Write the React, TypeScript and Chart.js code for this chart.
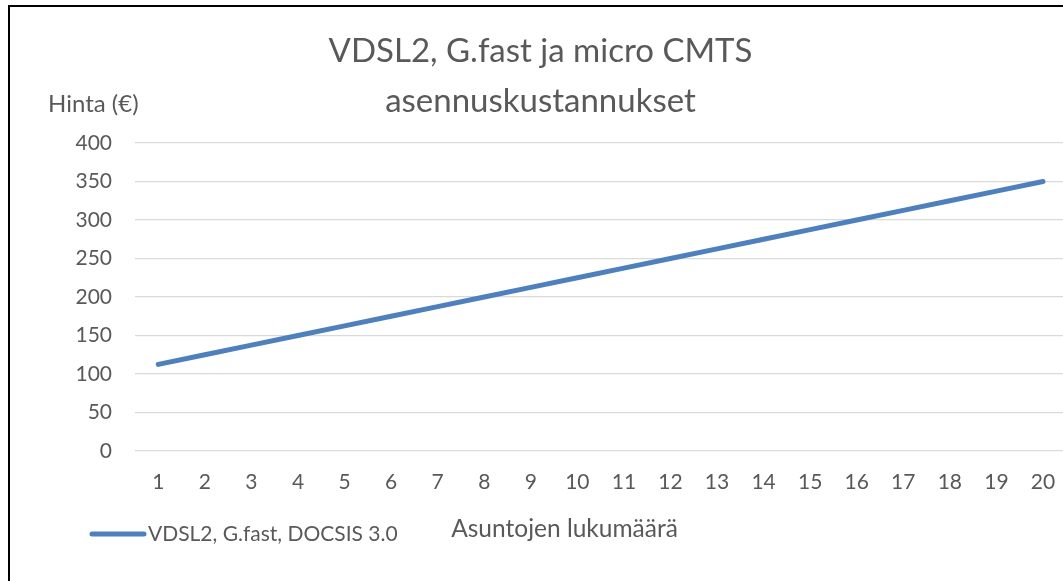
import React, { useEffect, useRef } from "react";
import { Chart, registerables } from "chart.js";

Chart.register(...registerables);

const categories: number[] = [1, 2, 3, 4, 5, 6, 7, 8, 9, 10, 11, 12, 13, 14, 15, 16, 17, 18, 19, 20];
const seriesName = "VDSL2, G.fast, DOCSIS 3.0";
const seriesValues: number[] = [
  112.5, 125, 137.5, 150, 162.5, 175, 187.5, 200, 212.5, 225,
  237.5, 250, 262.5, 275, 287.5, 300, 312.5, 325, 337.5, 350,
];
const titleLines: string[] = ["VDSL2, G.fast ja micro CMTS", "asennuskustannukset"];
const yAxisTitle = "Hinta (€)";
const xAxisTitle = "Asuntojen lukumäärä";
const yMin = 0;
const yMax = 400;
const yStep = 50;

const FONT = "Lato, 'Open Sans', sans-serif";
const TEXT = "#595959";
const LINE = "#4e80bd";
const W = 1063;
const H = 581;

const decorPlugin = {
  id: "decor",
  beforeDraw(chart: any) {
    const ctx = chart.ctx as CanvasRenderingContext2D;
    ctx.save();
    ctx.fillStyle = "#ffffff";
    ctx.fillRect(0, 0, chart.width, chart.height);
    ctx.restore();
  },
  afterDraw(chart: any) {
    const ctx = chart.ctx as CanvasRenderingContext2D;
    ctx.save();
    // frame
    ctx.strokeStyle = "#000000";
    ctx.lineWidth = 2;
    ctx.beginPath();
    ctx.moveTo(9, H + 2);
    ctx.lineTo(9, 6);
    ctx.lineTo(W + 2, 6);
    ctx.stroke();

    ctx.fillStyle = TEXT;
    ctx.textBaseline = "alphabetic";
    // title
    ctx.textAlign = "center";
    ctx.font = `33px ${FONT}`;
    ctx.fillText(titleLines[0], 540.5, 62);
    ctx.fillText(titleLines[1], 540.5, 112);
    // y axis title
    ctx.textAlign = "left";
    ctx.font = `24px ${FONT}`;
    ctx.fillText(yAxisTitle, 48, 112);
    // x axis title
    ctx.textAlign = "center";
    ctx.font = `24.5px ${FONT}`;
    ctx.fillText(xAxisTitle, 564.5, 537);
    // legend
    const ds = chart.data.datasets[0];
    ctx.strokeStyle = ds.borderColor;
    ctx.lineWidth = 5;
    ctx.lineCap = "round";
    ctx.beginPath();
    ctx.moveTo(92, 534);
    ctx.lineTo(144, 534);
    ctx.stroke();
    ctx.textAlign = "left";
    ctx.font = `21px ${FONT}`;
    ctx.fillText(ds.label, 148, 541);
    ctx.restore();
  },
};

export default function App() {
  const canvasRef = useRef<HTMLCanvasElement | null>(null);

  useEffect(() => {
    if (!canvasRef.current) return;
    const chart = new Chart(canvasRef.current, {
      type: "line",
      data: {
        datasets: [
          {
            label: seriesName,
            data: categories.map((c, i) => ({ x: c, y: seriesValues[i] })),
            borderColor: LINE,
            backgroundColor: LINE,
            borderWidth: 5,
            borderCapStyle: "round",
            borderJoinStyle: "round",
            pointRadius: 0,
            tension: 0,
          },
        ],
      },
      options: {
        animation: false,
        responsive: false,
        devicePixelRatio: 1,
        layout: { padding: { left: 0, right: 0, top: 143, bottom: 70 } },
        plugins: {
          legend: { display: false },
          title: { display: false },
          tooltip: { enabled: false },
        },
        scales: {
          x: {
            type: "linear",
            min: 0.5,
            max: 20.43,
            border: { display: false },
            grid: {
              drawOnChartArea: false,
              drawTicks: true,
              tickLength: 19,
              tickColor: "rgba(0,0,0,0)",
            },
            ticks: {
              padding: 0,
              color: TEXT,
              font: { family: FONT, size: 21 },
              maxRotation: 0,
              autoSkip: false,
            },
            afterBuildTicks: (scale: any) => {
              scale.ticks = categories.map((v) => ({ value: v }));
            },
            afterFit: (scale: any) => {
              scale.height = 60;
            },
          },
          y: {
            min: yMin,
            max: yMax,
            border: { display: false },
            grid: { color: "#d9d9d9", lineWidth: 1.3, drawTicks: false },
            ticks: {
              stepSize: yStep,
              padding: 23,
              color: TEXT,
              font: { family: FONT, size: 21 },
            },
            afterFit: (scale: any) => {
              scale.width = 135;
            },
          },
        },
      },
      plugins: [decorPlugin],
    });
    return () => chart.destroy();
  }, []);

  return (
    <div style={{ position: "absolute", left: 0, top: 0, width: W, height: H, background: "#fff" }}>
      <canvas ref={canvasRef} width={W} height={H} style={{ display: "block" }} />
    </div>
  );
}
